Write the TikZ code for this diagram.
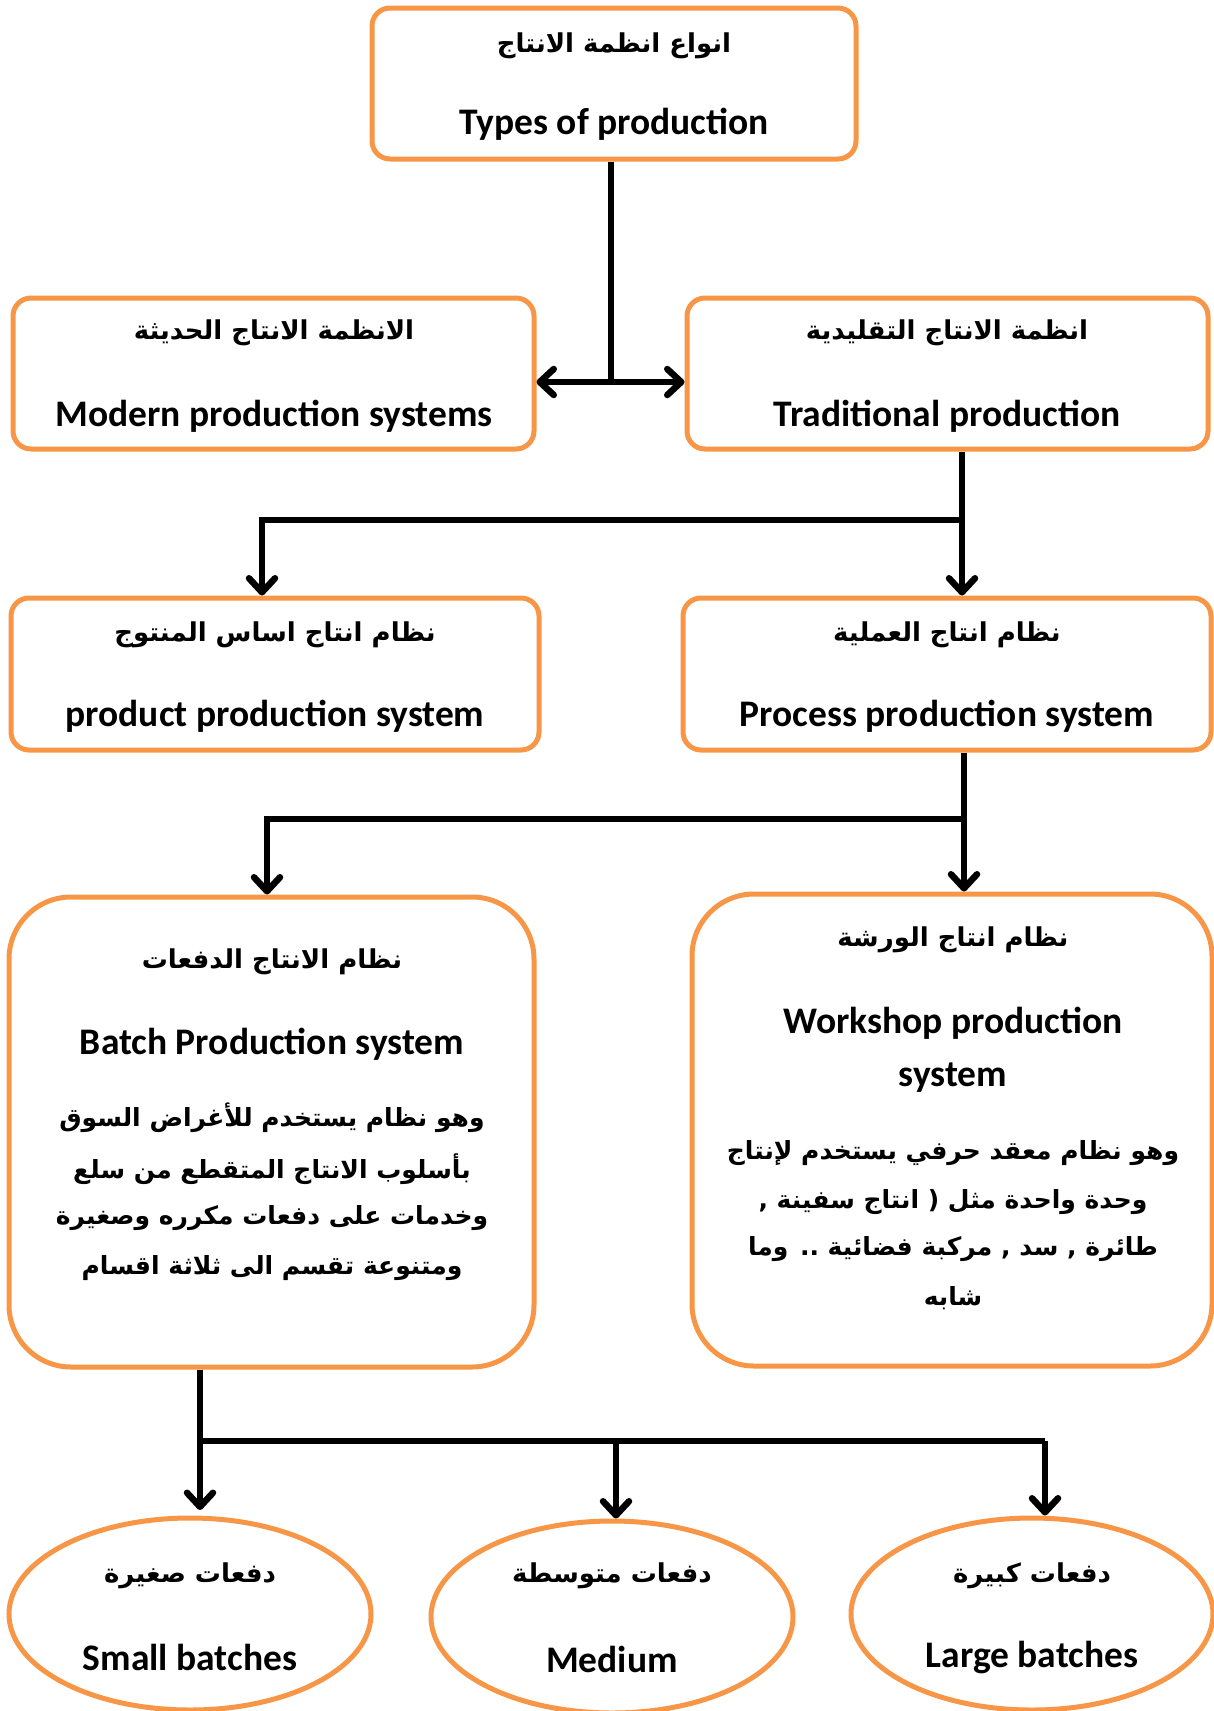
\documentclass[tikz,border=0pt]{standalone}
\usepackage{fontspec}
\setmainfont{Carlito}
\newfontfamily\arabicfont[Script=Arabic]{DejaVu Sans}
\TeXXeTstate=1
\usetikzlibrary{shapes.geometric,arrows.meta}
\definecolor{orng}{HTML}{F79646}
\begin{document}
\begin{tikzpicture}[x=1pt,y=-1pt,
  box/.style={draw=orng, line width=5pt, rounded corners=18pt, fill=white, inner sep=0pt},
  bigbox/.style={box, rounded corners=62pt},
  oval/.style={ellipse, draw=orng, line width=5pt, fill=white, inner sep=0pt, minimum width=362pt, minimum height=192pt},
  en/.style={font=\bfseries\fontsize{37.5}{44}\selectfont, inner sep=0pt},
  ar/.style={font=\arabicfont\bfseries\fontsize{26}{32}\selectfont, inner sep=0pt},
  arb/.style={font=\arabicfont\bfseries\fontsize{25}{31}\selectfont, inner sep=0pt},
  conn/.style={draw=black, line width=6.5pt},
  tip/.tip={Straight Barb[length=14pt, width=26pt, line cap=round, line join=round]}
]
\useasboundingbox (0,0) rectangle (1214,1711);

% boxes
\node[box, minimum width=484pt, minimum height=151pt] (top) at (614,83.5) {};
\node[box, minimum width=521pt, minimum height=151pt] (modern) at (273.5,373.5) {};
\node[box, minimum width=521pt, minimum height=151pt] (trad) at (947.5,373.5) {};
\node[box, minimum width=528pt, minimum height=152pt] (product) at (275,674) {};
\node[box, minimum width=528pt, minimum height=152pt] (process) at (947,674) {};
\node[bigbox, minimum width=525pt, minimum height=470pt] (batch) at (271.5,1132) {};
\node[bigbox, minimum width=520pt, minimum height=472pt] (workshop) at (952,1130) {};
\node[oval] (small) at (190,1614) {};
\node[oval] (medium) at (612,1617) {};
\node[oval] (large) at (1032,1614) {};

% texts
\node[ar] (topar) at (614,46) {\beginR انواع انظمة الانتاج\endR};
\node[en] (topen) at (614,124) {Types of production};
\node[ar] (modar) at (274,333) {\beginR الانظمة الانتاج الحديثة\endR};
\node[en] (moden) at (274,416) {Modern production systems};
\node[ar] (trar) at (947,333) {\beginR انظمة الانتاج التقليدية\endR};
\node[en] (tren) at (947,416) {Traditional production};
\node[ar] (prar) at (275,635) {\beginR نظام انتاج اساس المنتوج\endR};
\node[en] (pren) at (275,716) {product production system};
\node[ar] (pcar) at (947,635) {\beginR نظام انتاج العملية\endR};
\node[en] (pcen) at (947,716) {Process production system};

\node[ar] (bar) at (272,962) {\beginR نظام الانتاج الدفعات\endR};
\node[en] (ben) at (272,1044) {Batch Production system};
\node[arb] (b1) at (272,1118) {\beginR وهو نظام يستخدم للأغراض السوق\endR};
\node[arb] (b2) at (272,1169) {\beginR بأسلوب الانتاج المتقطع من سلع\endR};
\node[arb] (b3) at (272,1218) {\beginR وخدمات على دفعات مكرره وصغيرة\endR};
\node[arb] (b4) at (272,1268) {\beginR ومتنوعة تقسم الى ثلاثة اقسام\endR};

\node[ar] (war) at (953,940) {\beginR نظام انتاج الورشة\endR};
\node[en] (wen1) at (953,1023) {Workshop production};
\node[en] (wen2) at (953,1078) {system};
\node[arb] (w1) at (953,1153) {\beginR وهو نظام معقد حرفي يستخدم لإنتاج\endR};
\node[arb] (w2) at (953,1202) {\beginR وحدة واحدة مثل ( انتاج سفينة ,\endR};
\node[arb] (w3) at (953,1249) {\beginR طائرة , سد , مركبة فضائية .. وما\endR};
\node[arb] (w4) at (953,1298) {\beginR شابه\endR};

\node[ar] (sar) at (190,1576) {\beginR دفعات صغيرة\endR};
\node[en] (sen) at (190,1657) {Small batches};
\node[ar] (mar) at (612,1576) {\beginR دفعات متوسطة\endR};
\node[en] (men) at (612,1659) {Medium};
\node[ar] (lar) at (1032,1576) {\beginR دفعات كبيرة\endR};
\node[en] (len) at (1032,1657) {Large batches};

% connectors
\coordinate (j1) at (611,382);
\draw[conn] (top.south -| j1) -- (j1);
\draw[conn, tip-tip] (modern.east |- j1) -- (trad.west |- j1);

\coordinate (j2) at (962,520);
\coordinate (j2l) at (262,520);
\draw[conn, -tip] (trad.south -| j2) -- (process.north -| j2);
\draw[conn, -tip] (j2) -- (j2l) -- (product.north -| j2l);

\coordinate (j3) at (964,819);
\coordinate (j3l) at (267,819);
\draw[conn, -tip] (process.south -| j3) -- (workshop.north -| j3);
\draw[conn, -tip] (j3) -- (j3l) -- (batch.north -| j3l);

\coordinate (j4) at (200,1441);
\coordinate (j4m) at (616,1441);
\coordinate (j4r) at (1045,1441);
\coordinate (s1) at (200,1510);
\draw[conn, -tip] (batch.south -| j4) -- (s1);
\draw[conn] (j4) -- (j4r);
\draw[conn, -tip] (j4m) -- (medium.north -| j4m);
\draw[conn, -tip] (j4r) -- (large.north -| j4r);
\end{tikzpicture}
\end{document}
